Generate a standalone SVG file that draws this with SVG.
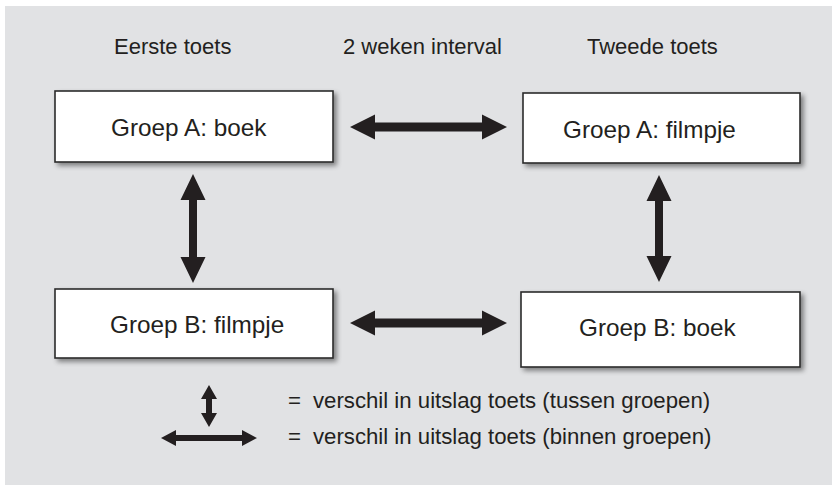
<svg xmlns="http://www.w3.org/2000/svg" width="833" height="486" viewBox="0 0 833 486">
  <defs>
    <filter id="shadow" x="-5%" y="-10%" width="115%" height="130%">
      <feGaussianBlur in="SourceAlpha" stdDeviation="2.5"/>
      <feOffset dx="3" dy="3" result="blur"/>
      <feComponentTransfer><feFuncA type="linear" slope="0.45"/></feComponentTransfer>
      <feMerge><feMergeNode/><feMergeNode in="SourceGraphic"/></feMerge>
    </filter>
  </defs>
  <style>
    .panel { fill: #e1e2e4; }
    .box { fill: #ffffff; stroke: #2b2a2b; stroke-width: 1.6; filter: url(#shadow); }
    .head { font-family: "Liberation Sans", Arial, sans-serif; font-size: 22px; fill: #231f20; }
    .label { font-family: "Liberation Sans", Arial, sans-serif; font-size: 24.3px; fill: #231f20; }
    .legend { font-family: "Liberation Sans", Arial, sans-serif; font-size: 22.2px; fill: #231f20; }
    .arrow { fill: #231f20; }
  </style>

  <!-- background panel -->
  <rect class="panel" x="5" y="6" width="827" height="479"/>

  <!-- column headings -->
  <text class="head" x="114" y="54">Eerste toets</text>
  <text class="head" x="343" y="54">2 weken interval</text>
  <text class="head" x="587" y="54">Tweede toets</text>

  <!-- nodes -->
  <g id="groepA-boek">
    <rect class="box" x="55" y="91" width="278" height="71"/>
    <text class="label" x="111" y="136">Groep A: boek</text>
  </g>
  <g id="groepA-filmpje">
    <rect class="box" x="523" y="93" width="277" height="70"/>
    <text class="label" x="563" y="138">Groep A: filmpje</text>
  </g>
  <g id="groepB-filmpje">
    <rect class="box" x="55" y="289" width="278" height="69"/>
    <text class="label" x="110" y="333">Groep B: filmpje</text>
  </g>
  <g id="groepB-boek">
    <rect class="box" x="521" y="292" width="279" height="75"/>
    <text class="label" x="579" y="336">Groep B: boek</text>
  </g>

  <!-- connectors: double-headed block arrows -->
  <g id="connectors">
    <path class="arrow" d="M350,127 L375,114.5 L375,122.5 L482,122.5 L482,114.5 L507,127 L482,139.5 L482,131.5 L375,131.5 L375,139.5 Z"/>
    <path class="arrow" d="M350,323 L375,310.5 L375,318.5 L482,318.5 L482,310.5 L507,323 L482,335.5 L482,327.5 L375,327.5 L375,335.5 Z"/>
    <path class="arrow" d="M193,174 L205.5,200 L197,200 L197,257 L205.5,257 L193,283 L180.5,257 L189,257 L189,200 L180.5,200 Z"/>
    <path class="arrow" d="M659,175 L671.5,201 L663,201 L663,256 L671.5,256 L659,282 L646.5,256 L655,256 L655,201 L646.5,201 Z"/>
  </g>

  <!-- legend -->
  <g id="legend">
    <path class="arrow" d="M209,385 L217,399 L212,399 L212,413 L217,413 L209,427 L201,413 L206,413 L206,399 L201,399 Z"/>
    <path class="arrow" d="M161,438 L176,430 L176,435 L242,435 L242,430 L257,438 L242,446 L242,441 L176,441 L176,446 Z"/>
    <text class="legend" x="288" y="408">=</text>
    <text class="legend" x="313" y="408">verschil in uitslag toets (tussen groepen)</text>
    <text class="legend" x="288" y="444">=</text>
    <text class="legend" x="313" y="444">verschil in uitslag toets (binnen groepen)</text>
  </g>
</svg>
